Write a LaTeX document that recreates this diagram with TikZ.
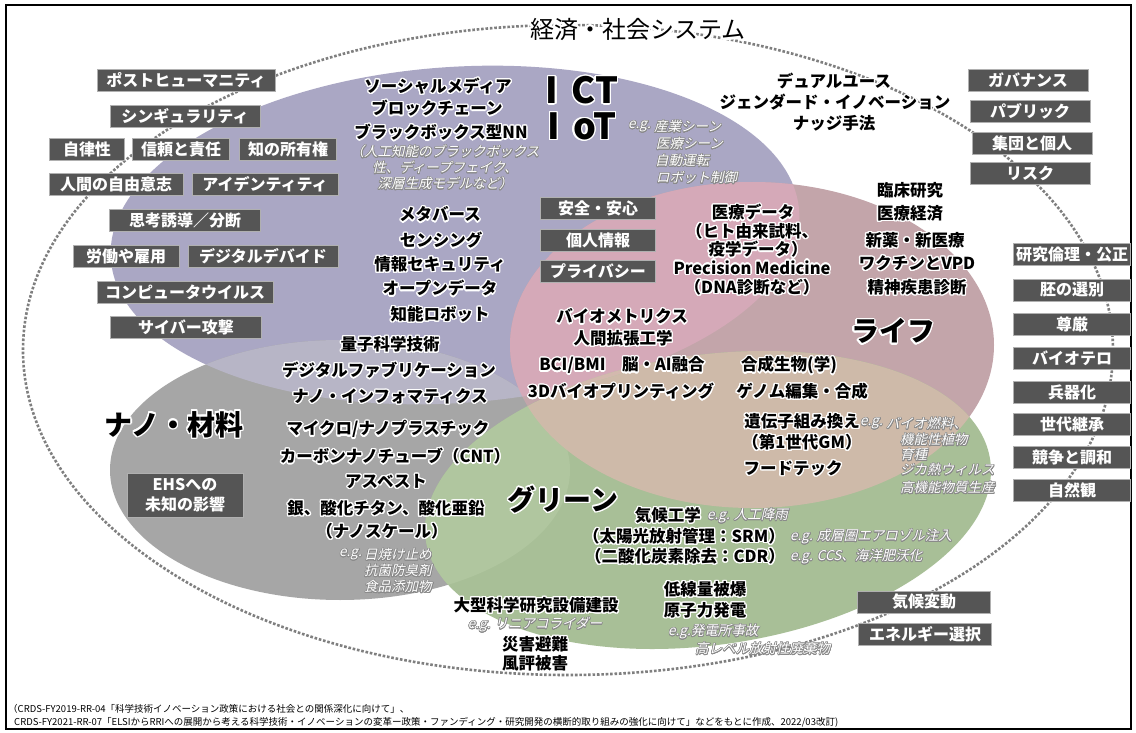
\documentclass[tikz,border=0pt]{standalone}
\usepackage{fontspec}
\setmainfont{Noto Sans CJK JP}
\newfontfamily\egfont[FakeSlant=0.22]{Noto Sans CJK JP}
\usepackage[copies]{contour}
\contourlength{1.3pt}
\contournumber{20}
\definecolor{ictc}{HTML}{AAA7C4}
\definecolor{lifec}{HTML}{C3A5AA}
\definecolor{nanoc}{HTML}{A6A6A6}
\definecolor{greenc}{HTML}{A8BF97}
\definecolor{ilc}{HTML}{D5A9B8}
\definecolor{inc}{HTML}{B7B5C6}
\definecolor{ngc}{HTML}{B0C69F}
\definecolor{lgc}{HTML}{CEBAA9}
\definecolor{igc}{HTML}{B4C7A2}
\definecolor{ilgc}{HTML}{D3B9AE}
\definecolor{boxc}{HTML}{555555}
\definecolor{boxedge}{HTML}{B0B0B0}
\definecolor{dotc}{HTML}{7F7F7F}
\definecolor{egedge}{HTML}{8A8A8A}
\newcommand\wht[1]{\contour{white}{#1}}
\newcommand\egt[1]{{\contourlength{0.6pt}\contour{egedge}{#1}}}
\def\ICTe{(455,235) ellipse [x radius=345pt, y radius=168pt]}
\def\LIFEe{(752,345) ellipse [x radius=242pt, y radius=163pt]}
\def\NANOe{(340,470) ellipse [x radius=230pt, y radius=130pt]}
\def\GRNe{(708,500) ellipse [x radius=285pt, y radius=145pt]}
\tikzset{
  ictrot/.style={rotate around={4:(455,235)}},
  grnrot/.style={rotate around={8:(708,500)}},
  lbl/.style={inner sep=0pt, text=black, font=\fontsize{16.5}{18}\selectfont\bfseries},
  boxn/.style={fill=boxc, draw=boxedge, line width=0.8pt, text=white, inner sep=0pt, minimum height=22pt, font=\fontsize{16}{18}\selectfont\bfseries},
  egn/.style={inner sep=0pt, text=white, font=\egfont\fontsize{13.5}{16}\selectfont},
  bign/.style={inner sep=0pt, text=black, font=\fontsize{28}{30}\selectfont\bfseries},
  ictn/.style={inner sep=0pt, text=black, font=\fontsize{36}{38}\selectfont\bfseries},
  foot/.style={inner sep=0pt, anchor=west, text=black, font=\fontsize{9.5}{11}\selectfont},
  dotline/.style={draw=dotc, line width=2.6pt, dash pattern=on 2.6pt off 1.8pt},
}
\begin{document}
\begin{tikzpicture}[x=1pt,y=-1pt]
\useasboundingbox (0,0) rectangle (1136,733);
\fill[white] (0,0) rectangle (1136,733);
% regions
\fill[ictc, ictrot] \ICTe;
\fill[nanoc] \NANOe;
\fill[lifec] \LIFEe;
\fill[greenc, grnrot] \GRNe;
\begin{scope}\clip[ictrot] \ICTe; \fill[inc] \NANOe; \end{scope}
\begin{scope}\clip[ictrot] \ICTe; \fill[ilc] \LIFEe; \end{scope}
\begin{scope}\clip \NANOe; \fill[ngc, grnrot] \GRNe; \end{scope}
\begin{scope}\clip \LIFEe; \fill[lgc, grnrot] \GRNe; \end{scope}
\begin{scope}\clip[ictrot] \ICTe; \fill[igc, grnrot] \GRNe; \end{scope}
\begin{scope}\clip[ictrot] \ICTe; \clip \LIFEe; \fill[ilgc, grnrot] \GRNe; \end{scope}
% outer system
\draw[dotline] (568,350) ellipse [x radius=545pt, y radius=325pt];
\draw[line width=2pt] (6,5) rectangle (1131,729);
\node[inner sep=0pt, font=\fontsize{24}{26}\selectfont] (title) at (638,31) {{\contourlength{2.2pt}\contour{white}{経済・社会システム}}};
% left boxes
\node[boxn, minimum width=178pt] (b1) at (186,80) {ポストヒューマニティ};
\node[boxn, minimum width=150pt] (b2) at (185,116) {シンギュラリティ};
\node[boxn, minimum width=75pt] (b3) at (87,149) {自律性};
\node[boxn, minimum width=97pt] (b4) at (181,149) {信頼と責任};
\node[boxn, minimum width=97pt] (b5) at (288,149) {知の所有権};
\node[boxn, minimum width=134pt] (b6) at (116,184) {人間の自由意志};
\node[boxn, minimum width=146pt] (b7) at (265,184) {アイデンティティ};
\node[boxn, minimum width=151pt] (b8) at (185,220) {思考誘導／分断};
\node[boxn, minimum width=106pt] (b9) at (126,256) {労働や雇用};
\node[boxn, minimum width=150pt] (b10) at (263,256) {デジタルデバイド};
\node[boxn, minimum width=176pt] (b11) at (185,292) {コンピュータウイルス};
\node[boxn, minimum width=151pt] (b12) at (186,327) {サイバー攻撃};
% middle boxes
\node[boxn, minimum width=115pt] (m1) at (598,208) {安全・安心};
\node[boxn, minimum width=115pt] (m2) at (598,240) {個人情報};
\node[boxn, minimum width=115pt] (m3) at (598,271) {プライバシー};
% right top boxes
\node[boxn, minimum width=120pt] (r1) at (1028,80) {ガバナンス};
\node[boxn, minimum width=120pt] (r2) at (1030,111) {パブリック};
\node[boxn, minimum width=120pt] (r3) at (1032,143) {集団と個人};
\node[boxn, minimum width=120pt] (r4) at (1030,173) {リスク};
% right column
\node[boxn, minimum width=117pt] (c1) at (1072,254) {研究倫理・公正};
\node[boxn, minimum width=117pt] (c2) at (1072,290) {胚の選別};
\node[boxn, minimum width=117pt] (c3) at (1072,324) {尊厳};
\node[boxn, minimum width=117pt] (c4) at (1072,358) {バイオテロ};
\node[boxn, minimum width=117pt] (c5) at (1072,392) {兵器化};
\node[boxn, minimum width=117pt] (c6) at (1072,424) {世代継承};
\node[boxn, minimum width=117pt] (c7) at (1072,457) {競争と調和};
\node[boxn, minimum width=117pt] (c8) at (1072,490) {自然観};
% bottom right boxes
\node[boxn, minimum width=133pt] (e1) at (924,602) {気候変動};
\node[boxn, minimum width=133pt] (e2) at (925,634) {エネルギー選択};
% EHS
\node[boxn, minimum width=116pt, minimum height=44pt, align=center, font=\fontsize{16}{20}\selectfont\bfseries] (ehs) at (185,495) {EHSへの\\未知の影響};
% ICT area
\node[lbl] (i1) at (438,87) {\wht{ソーシャルメディア}};
\node[lbl] (i2) at (437,109) {\wht{ブロックチェーン}};
\node[lbl] (i3) at (441,133) {\wht{ブラックボックス型NN}};
\node[egn, align=center] (i3e) at (445,168) {\egt{（人工知能のブラックボックス}\\\egt{性、ディープフェイク、}\\\egt{深層生成モデルなど）}};
\node[lbl] (i4) at (440,215) {\wht{メタバース}};
\node[lbl] (i5) at (441,241) {\wht{センシング}};
\node[lbl] (i6) at (440,265) {\wht{情報セキュリティ}};
\node[lbl] (i7) at (440,289) {\wht{オープンデータ}};
\node[lbl] (i8) at (440,315) {\wht{知能ロボット}};
\node[ictn] (ict) at (582,91) {\wht{I\hspace{13pt}CT}};
\node[ictn] (iot) at (582,127) {\wht{I\hspace{13pt}oT}};
\node[egn, anchor=east] (ie0) at (651,127) {\egt{e.g.}};
\node[egn, anchor=west] (ie1) at (654,127) {\egt{産業シーン}};
\node[egn, anchor=west] (ie2) at (656,144) {\egt{医療シーン}};
\node[egn, anchor=west] (ie3) at (655,161) {\egt{自動運転}};
\node[egn, anchor=west] (ie4) at (656,178) {\egt{ロボット制御}};
% top centre-right
\node[lbl] (t1) at (834,82) {\wht{デュアルユース}};
\node[lbl] (t2) at (835,103) {\wht{ジェンダード・イノベーション}};
\node[lbl] (t3) at (834,124) {\wht{ナッジ手法}};
% nano area
\node[lbl] (n1) at (390,345) {\wht{量子科学技術}};
\node[lbl] (n2) at (389,371) {\wht{デジタルファブリケーション}};
\node[lbl] (n3) at (390,397) {\wht{ナノ・インフォマティクス}};
\node[lbl] (n4) at (388,430) {\wht{マイクロ/ナノプラスチック}};
\node[lbl] (n5) at (395,457) {\wht{カーボンナノチューブ（CNT）}};
\node[lbl] (n6) at (386,482) {\wht{アスベスト}};
\node[lbl] (n7) at (386,509) {\wht{銀、酸化チタン、酸化亜鉛}};
\node[lbl] (n8) at (382,532) {\wht{（ナノスケール）}};
\node[egn, anchor=east] (ne0) at (362,555) {\egt{e.g.}};
\node[egn, anchor=west] (ne1) at (364,555) {\egt{日焼け止め}};
\node[egn, anchor=west] (ne2) at (364,571) {\egt{抗菌防臭剤}};
\node[egn, anchor=west] (ne3) at (364,587) {\egt{食品添加物}};
\node[bign] (nano) at (174,425) {\wht{ナノ・材料}};
% life area
\node[lbl] (l1) at (753,213) {\wht{医療データ}};
\node[lbl] (l2) at (752,232) {\wht{（ヒト由来試料、}};
\node[lbl] (l3) at (758,250) {\wht{疫学データ）}};
\node[lbl] (l4) at (752,268) {\wht{Precision Medicine}};
\node[lbl] (l5) at (752,288) {\wht{（DNA診断など）}};
\node[lbl] (l6) at (910,191) {\wht{臨床研究}};
\node[lbl] (l7) at (910,214) {\wht{医療経済}};
\node[lbl] (l8) at (915,241) {\wht{新薬・新医療}};
\node[lbl] (l9) at (917,264) {\wht{ワクチンとVPD}};
\node[lbl] (l10) at (917,288) {\wht{精神疾患診断}};
\node[bign] (life) at (893,332) {\wht{ライフ}};
\node[lbl] (l11) at (622,317) {\wht{バイオメトリクス}};
\node[lbl] (l12) at (623,339) {\wht{人間拡張工学}};
\node[lbl] (l13) at (622,366) {\wht{BCI/BMI　脳・AI融合}};
\node[lbl] (l14) at (621,392) {\wht{3Dバイオプリンティング}};
\node[lbl] (l15) at (789,366) {\wht{合成生物(学)}};
\node[lbl] (l16) at (802,392) {\wht{ゲノム編集・合成}};
\node[lbl] (l17) at (802,422) {\wht{遺伝子組み換え}};
\node[lbl] (l18) at (802,443) {\wht{（第1世代GM）}};
\node[lbl] (l19) at (793,469) {\wht{フードテック}};
\node[egn, anchor=east] (le0) at (883,424) {\egt{e.g.}};
\node[egn, anchor=west] (le1) at (886,424) {\egt{バイオ燃料、}};
\node[egn, anchor=west] (le2) at (900,440) {\egt{機能性植物}};
\node[egn, anchor=west] (le3) at (900,455) {\egt{育種}};
\node[egn, anchor=west] (le4) at (900,470) {\egt{ジカ熱ウィルス}};
\node[egn, anchor=west] (le5) at (900,488) {\egt{高機能物質生産}};
% green area
\node[bign] (green) at (563,500) {\wht{グリーン}};
\node[lbl, anchor=east] (g1) at (701,516) {\wht{気候工学}};
\node[egn, anchor=west] (g1e) at (707,516) {\egt{e.g. 人工降雨}};
\node[lbl, anchor=east] (g2) at (785,537) {\wht{（太陽光放射管理：SRM）}};
\node[egn, anchor=west] (g2e) at (790,537) {\egt{e.g. 成層圏エアロゾル注入}};
\node[lbl, anchor=east] (g3) at (785,557) {\wht{（二酸化炭素除去：CDR）}};
\node[egn, anchor=west] (g3e) at (790,557) {\egt{e.g. CCS、海洋肥沃化}};
\node[lbl] (g4) at (705,590) {\wht{低線量被爆}};
\node[lbl] (g5) at (705,611) {\wht{原子力発電}};
\node[egn, anchor=west] (g5e) at (668,632) {\egt{e.g.発電所事故}};
\node[egn, anchor=west] (g5f) at (695,649) {\egt{高レベル放射性廃棄物}};
\node[lbl] (g6) at (536,606) {\wht{大型科学研究設備建設}};
\node[egn] (g6e) at (535,625) {\egt{e.g. リニアコライダー}};
\node[lbl] (g7) at (535,645) {\wht{災害避難}};
\node[lbl] (g8) at (535,664) {\wht{風評被害}};
% footer
\node[foot] (f1) at (8,709) {（CRDS-FY2019-RR-04「科学技術イノベーション政策における社会との関係深化に向けて」、};
\node[foot] (f2) at (14,722) {CRDS-FY2021-RR-07「ELSIからRRIへの展開から考える科学技術・イノベーションの変革ー政策・ファンディング・研究開発の横断的取り組みの強化に向けて」などをもとに作成、2022/03改訂)};
\end{tikzpicture}
\end{document}
